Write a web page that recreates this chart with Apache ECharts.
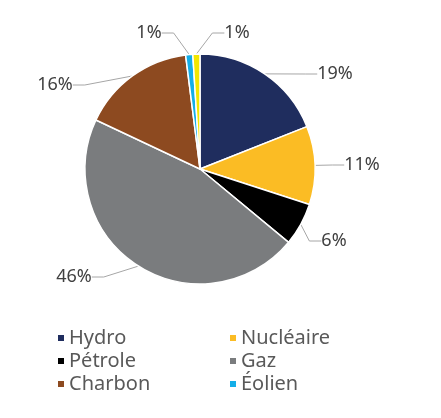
<!DOCTYPE html>
<html><head><meta charset="utf-8">
<script src="https://cdn.jsdelivr.net/npm/echarts@6/dist/echarts.min.js"></script>
<style>html,body{margin:0;padding:0;background:#fff}#c{width:441px;height:418px}</style>
</head><body><div id="c"></div>
<script>
const categories = ['Hydro', 'Nucléaire', 'Pétrole', 'Gaz', 'Charbon', 'Éolien', 'Solaire'];
const values = [19, 11, 6, 46, 16, 1, 1];
const legendCol1 = ['Hydro', 'Pétrole', 'Charbon'];
const legendCol2 = ['Nucléaire', 'Gaz', 'Éolien'];

// styling / layout (not data)
const colors = ['#1f2d5e', '#fbbc24', '#000000', '#7a7c7e', '#8d4a20', '#14aee8', '#f2e600'];
const labelCenters = [[335, 74], [362, 165], [334, 241], [74, 277], [55, 85], [149, 33], [237, 33]];

const chart = echarts.init(document.getElementById('c'));
const legendBase = {
  orient: 'vertical', top: 323, itemWidth: 8, itemHeight: 8, itemGap: 3,
  icon: 'rect',
  textStyle: { fontFamily: 'Noto Sans', fontSize: 20, color: '#595959', lineHeight: 19, padding: [0,0,0,-1] }
};
chart.setOption({
  animation: false,
  color: colors,
  legend: [
    Object.assign({}, legendBase, { left: 51, data: legendCol1 }),
    Object.assign({}, legendBase, { left: 223, data: legendCol2 })
  ],
  series: [{
    type: 'pie',
    center: [200, 169],
    radius: 115,
    startAngle: 90,
    clockwise: true,
    data: categories.map((n, i) => ({ name: n, value: values[i] })),
    itemStyle: { borderColor: '#fff', borderWidth: 1.5 },
    label: {
      formatter: p => p.value + '%',
      fontFamily: 'Noto Sans', fontSize: 18, color: '#404040'
    },
    labelLine: { show: true, length: 18, length2: 12, lineStyle: { color: '#a6a6a6', width: 1 } },
    labelLayout: p => ({
      x: labelCenters[p.dataIndex][0],
      y: labelCenters[p.dataIndex][1],
      align: 'center',
      verticalAlign: 'middle'
    })
  }]
});
</script></body></html>
